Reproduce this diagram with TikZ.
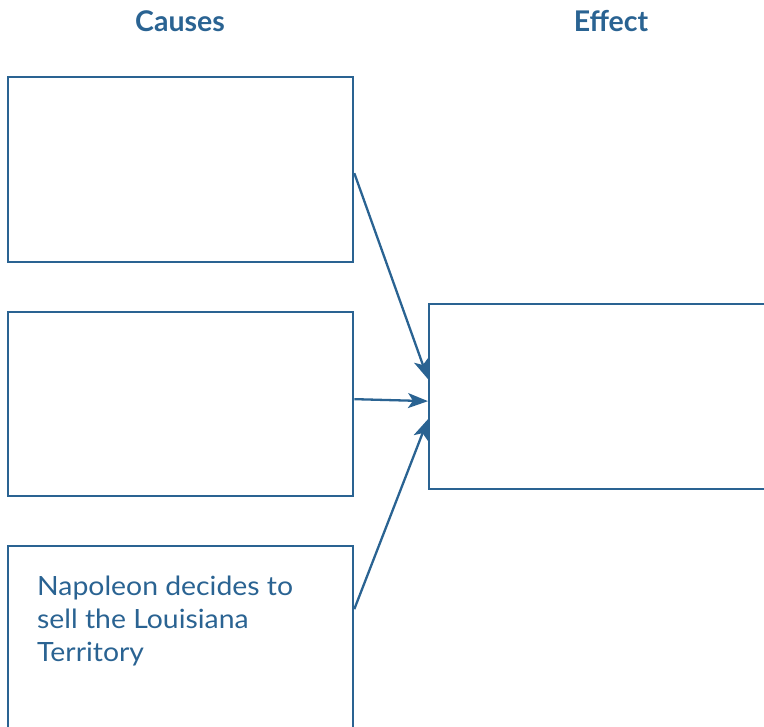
\documentclass[tikz,border=0pt]{standalone}
\usepackage{fontspec}
\setmainfont{Lato}
\newfontfamily\widefont[FakeStretch=1.07]{Lato}
\usetikzlibrary{arrows.meta}
\definecolor{ink}{RGB}{42,99,146}
\tikzset{
  tip/.tip={Stealth[length=20pt,width=15pt,inset=5pt]}
}
\begin{document}
\begin{tikzpicture}[x=1pt,y=-1pt,
  box/.style={draw=ink, line width=2.3pt, minimum width=345pt, minimum height=185pt,
              inner sep=0pt, anchor=north west},
  link/.style={draw=ink, line width=2.3pt, -tip},
  head/.style={text=ink, font=\bfseries\fontsize{28.5}{32}\selectfont},
  label/.style={text=ink, font=\widefont\fontsize{26.5}{33}\selectfont, align=left,
                inner sep=0pt, anchor=north west}]
\useasboundingbox (0,0) rectangle (764,727);
\clip (0,0) rectangle (764,727);
% column headings
\node[head] (hcause) at (180,21) {Causes};
\node[head] (heffect) at (611,21) {Effect};
% cause boxes
\node[box] (c1) at (7,76) {};
\node[box, minimum height=184pt] (c2) at (7,311) {};
\node[box, minimum height=220pt] (c3) at (7,545) {};
\node[label] (t3) at (37,576) {Napoleon decides to\\sell the Louisiana\\Territory};
% effect box
\node[box, minimum width=400pt] (eff) at (428,303) {};
% connectors
\draw[link] ([yshift=-3.5pt]c1.east) -- ([yshift=17.5pt]eff.west);
\draw[link] ([yshift=5pt]c2.east) -- ([yshift=-4.5pt]eff.west);
\draw[link] ([yshift=47pt]c3.east) -- ([yshift=-22.5pt]eff.west);
\end{tikzpicture}
\end{document}
